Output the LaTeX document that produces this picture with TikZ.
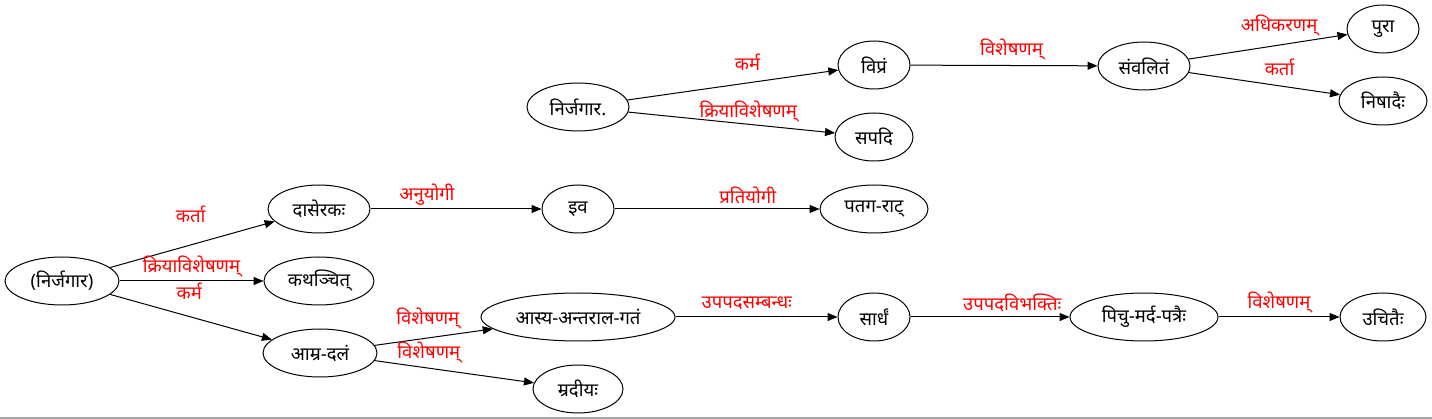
\documentclass[tikz,border=0pt]{standalone}
\usepackage{fontspec}
\newfontfamily\deva[Script=Devanagari]{Noto Sans}
\usetikzlibrary{positioning,arrows.meta,shapes.geometric}

\begin{document}
\begin{tikzpicture}[
      x=1pt, y=-1pt,
      word/.style = {ellipse, draw, line width=1pt, inner sep=0pt,
                     minimum height=48pt, minimum width=#1,
                     font=\deva\fontsize{18.5}{20}\selectfont},
      rel/.style  = {text=red, inner sep=0pt,
                     font=\deva\fontsize{18.5}{20}\selectfont},
      arrow/.style = {-{Triangle[length=10pt,width=8pt]}, line width=1pt}
    ]
    \useasboundingbox (0,0) rectangle (1432,419);
    \draw[gray!70, line width=1.5pt] (0,418) -- (1432,418);

    % Nodes of the upper tree
    \node[word=102pt] (nirjagara) at (578,107) {निर्जगार.};
    \node[word=72pt]  (vipram)    at (874,65)  {विप्रं};
    \node[word=78pt]  (sapadi)    at (874,137) {सपदि};
    \node[word=92pt]  (samvalita) at (1144,66) {संवलितं};
    \node[word=72pt]  (pura)      at (1383,29) {पुरा};
    \node[word=88pt]  (nishadaih) at (1383,101) {निषादैः};

    % Nodes of the lower tree
    \node[word=114pt] (root)     at (62,281)  {(निर्जगार)};
    \node[word=102pt] (daseraka) at (319,209) {दासेरकः};
    \node[word=110pt] (kathanchit) at (319,281) {कथञ्चित्};
    \node[word=114pt] (amradalam) at (320,353) {आम्र-दलं};
    \node[word=72pt]  (iva)      at (578,209) {इव};
    \node[word=108pt] (patagarat) at (874,209) {पतग-राट्};
    \node[word=194pt] (asyagatam) at (578,317) {आस्य-अन्तराल-गतं};
    \node[word=90pt]  (mradiyah) at (578,389) {म्रदीयः};
    \node[word=72pt]  (sardham)  at (874,317) {सार्धं};
    \node[word=148pt] (picumarda) at (1144,317) {पिचु-मर्द-पत्रैः};
    \node[word=86pt]  (ucitaih)  at (1383,317) {उचितैः};

    % Arrows, upper tree
    \draw[arrow] (nirjagara) -- (vipram)
        node[rel, pos=.57, yshift=21pt] {कर्म};
    \draw[arrow] (nirjagara) -- (sapadi)
        node[rel, pos=.58, yshift=13pt] {क्रियाविशेषणम्};
    \draw[arrow] (vipram) -- (samvalita)
        node[rel, pos=.54, yshift=16pt] {विशेषणम्};
    \draw[arrow] (samvalita) -- (pura)
        node[rel, pos=.57, yshift=20pt] {अधिकरणम्};
    \draw[arrow] (samvalita) -- (nishadaih)
        node[rel, pos=.6, yshift=19pt] {कर्ता};

    % Arrows, lower tree
    \draw[arrow] (root) -- (daseraka)
        node[rel, pos=.49, yshift=31pt] {कर्ता};
    \draw[arrow] (root) -- (kathanchit)
        node[rel, pos=.5, yshift=14pt] {क्रियाविशेषणम्};
    \draw[arrow] (root) -- (amradalam)
        node[rel, pos=.49, yshift=25pt] {कर्म};
    \draw[arrow] (daseraka) -- (iva)
        node[rel, pos=.33, yshift=14pt] {अनुयोगी};
    \draw[arrow] (iva) -- (patagarat)
        node[rel, pos=.65, yshift=14pt] {प्रतियोगी};
    \draw[arrow] (amradalam) -- (asyagatam)
        node[rel, pos=.45, yshift=19pt] {विशेषणम्};
    \draw[arrow] (amradalam) -- (mradiyah)
        node[rel, pos=.34, yshift=16pt] {विशेषणम्};
    \draw[arrow] (asyagatam) -- (sardham)
        node[rel, pos=.44, yshift=14pt] {उपपदसम्बन्धः};
    \draw[arrow] (sardham) -- (picumarda)
        node[rel, pos=.64, yshift=14pt] {उपपदविभक्तिः};
    \draw[arrow] (picumarda) -- (ucitaih)
        node[rel, pos=.5, yshift=14pt] {विशेषणम्};
\end{tikzpicture}
\end{document}
